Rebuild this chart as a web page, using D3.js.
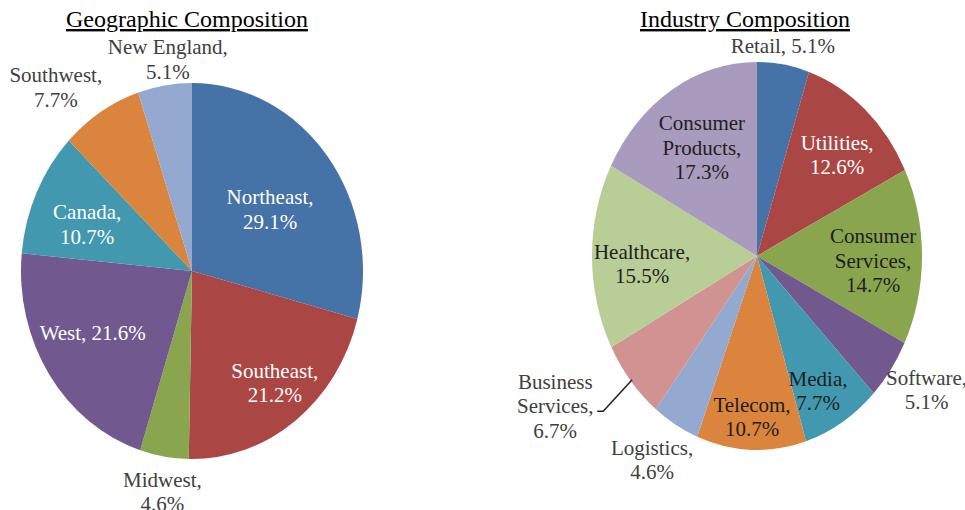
<!DOCTYPE html>
<html>
<head>
<meta charset="utf-8">
<script src="https://cdn.jsdelivr.net/npm/d3@7"></script>
<style>
  body { margin: 0; background: #fff; }
  text { font-family: "Liberation Serif", "Times New Roman", serif; }
</style>
</head>
<body>
<svg id="chart" width="965" height="510"></svg>
<script>
// data, clockwise from 12 o'clock
var geoNames = ["Northeast", "Southeast", "Midwest", "West", "Canada", "Southwest", "New England"];
var geoValues = [29.1, 21.2, 4.6, 21.6, 10.7, 7.7, 5.1];

var indNames = ["Retail", "Utilities", "Consumer Services", "Software", "Media", "Telecom",
                "Logistics", "Business Services", "Healthcare", "Consumer Products"];
var indValues = [5.1, 12.6, 14.7, 5.1, 7.7, 10.7, 4.6, 6.7, 15.5, 17.3];

var geoColors = ["#4572A7", "#AA4643", "#89A54E", "#71588F", "#4198AF", "#DB843D", "#93A9CF"];
var indColors = ["#4572A7", "#AA4643", "#89A54E", "#71588F", "#4198AF", "#DB843D",
                 "#93A9CF", "#D19392", "#B9CD96", "#A99BBD"];

// label placement: angle nudge (deg), radius factor, wrap mode, text colour
var WHITE = "#ffffff", DARK = "#1e1e1e", GREY = "#404040";
var geoLabels = [
  [2.2, 0.56, 1, WHITE], [-1.9, 0.77, 1, WHITE], [-1, 1.19, 1, GREY], [3.5, 0.67, 0, WHITE],
  [-2.9, 0.66, 1, WHITE], [-7.1, 1.257, 1, GREY], [2, 1.132, 1, GREY]
];
var indLabels = [
  [-0.9, 1.089, 0, GREY], [2.1, 0.71, 1, WHITE], [2.1, 0.704, 2, DARK], [-1.8, 1.24, 1, GREY],
  [3.2, 0.79, 1, DARK], [0.1, 0.833, 1, DARK], [1.6, 1.231, 1, GREY], [7.7, 1.449, 2, GREY],
  [-3.4, 0.698, 1, DARK], [0.2, 0.649, 2, DARK]
];

var svg = d3.select("#chart");

function wrapLabel(name, value, mode) {
  var full = name + ", " + value.toFixed(1) + "%";
  if (mode === 0) return [full];
  if (mode === 1) return [name + ",", value.toFixed(1) + "%"];
  var words = name.split(" ");
  words[words.length - 1] += ",";
  return words.concat([value.toFixed(1) + "%"]);
}

function drawPie(opt) {
  var pie = d3.pie().sort(null).value(function(d) { return d; });
  var arcs = pie(opt.values);
  var arc = d3.arc().innerRadius(0).outerRadius(opt.rx);
  var sy = opt.ry / opt.rx;

  svg.append("g")
    .attr("transform", "translate(" + opt.cx + "," + opt.cy + ") scale(1," + sy + ")")
    .selectAll("path")
    .data(arcs)
    .enter().append("path")
    .attr("d", arc)
    .attr("fill", function(d, i) { return opt.colors[i]; });

  // polar position on the (squashed) pie
  function pos(angle, r) {
    return [opt.cx + opt.rx * r * Math.sin(angle), opt.cy - opt.ry * r * Math.cos(angle)];
  }

  var lh = 24.5;
  arcs.forEach(function(d, i) {
    var L = opt.labels[i];
    var mid = (d.startAngle + d.endAngle) / 2;
    var p = pos(mid + L[0] * Math.PI / 180, L[1]);
    var lines = wrapLabel(opt.names[i], opt.values[i], L[2]);
    var n = lines.length;
    var t = svg.append("text")
      .attr("text-anchor", "middle")
      .attr("font-size", 21)
      .attr("fill", L[3]);
    lines.forEach(function(s, k) {
      t.append("tspan")
        .attr("x", p[0])
        .attr("y", p[1] + (k - (n - 1) / 2) * lh + 6.5)
        .text(s);
    });
    if (opt.leader === i) {
      var b = p[1] + 6.5 - 2;
      var q = pos(mid, 0.99);
      svg.append("path")
        .attr("d", d3.line()([[p[0] + 42, b], [p[0] + 48, b], q]))
        .attr("fill", "none")
        .attr("stroke", "#222")
        .attr("stroke-width", 1.5);
    }
  });

  svg.append("text")
    .attr("x", opt.titleX)
    .attr("y", 27)
    .attr("text-anchor", "middle")
    .attr("font-size", 24)
    .attr("fill", "#000")
    .attr("text-decoration", "underline")
    .text(opt.title);
}

drawPie({
  title: "Geographic Composition", titleX: 187,
  names: geoNames, values: geoValues, colors: geoColors, labels: geoLabels,
  cx: 192, cy: 271, rx: 171, ry: 188
});

drawPie({
  title: "Industry Composition", titleX: 745,
  names: indNames, values: indValues, colors: indColors, labels: indLabels,
  cx: 757, cy: 256, rx: 165, ry: 194, leader: 7
});
</script>
</body>
</html>
